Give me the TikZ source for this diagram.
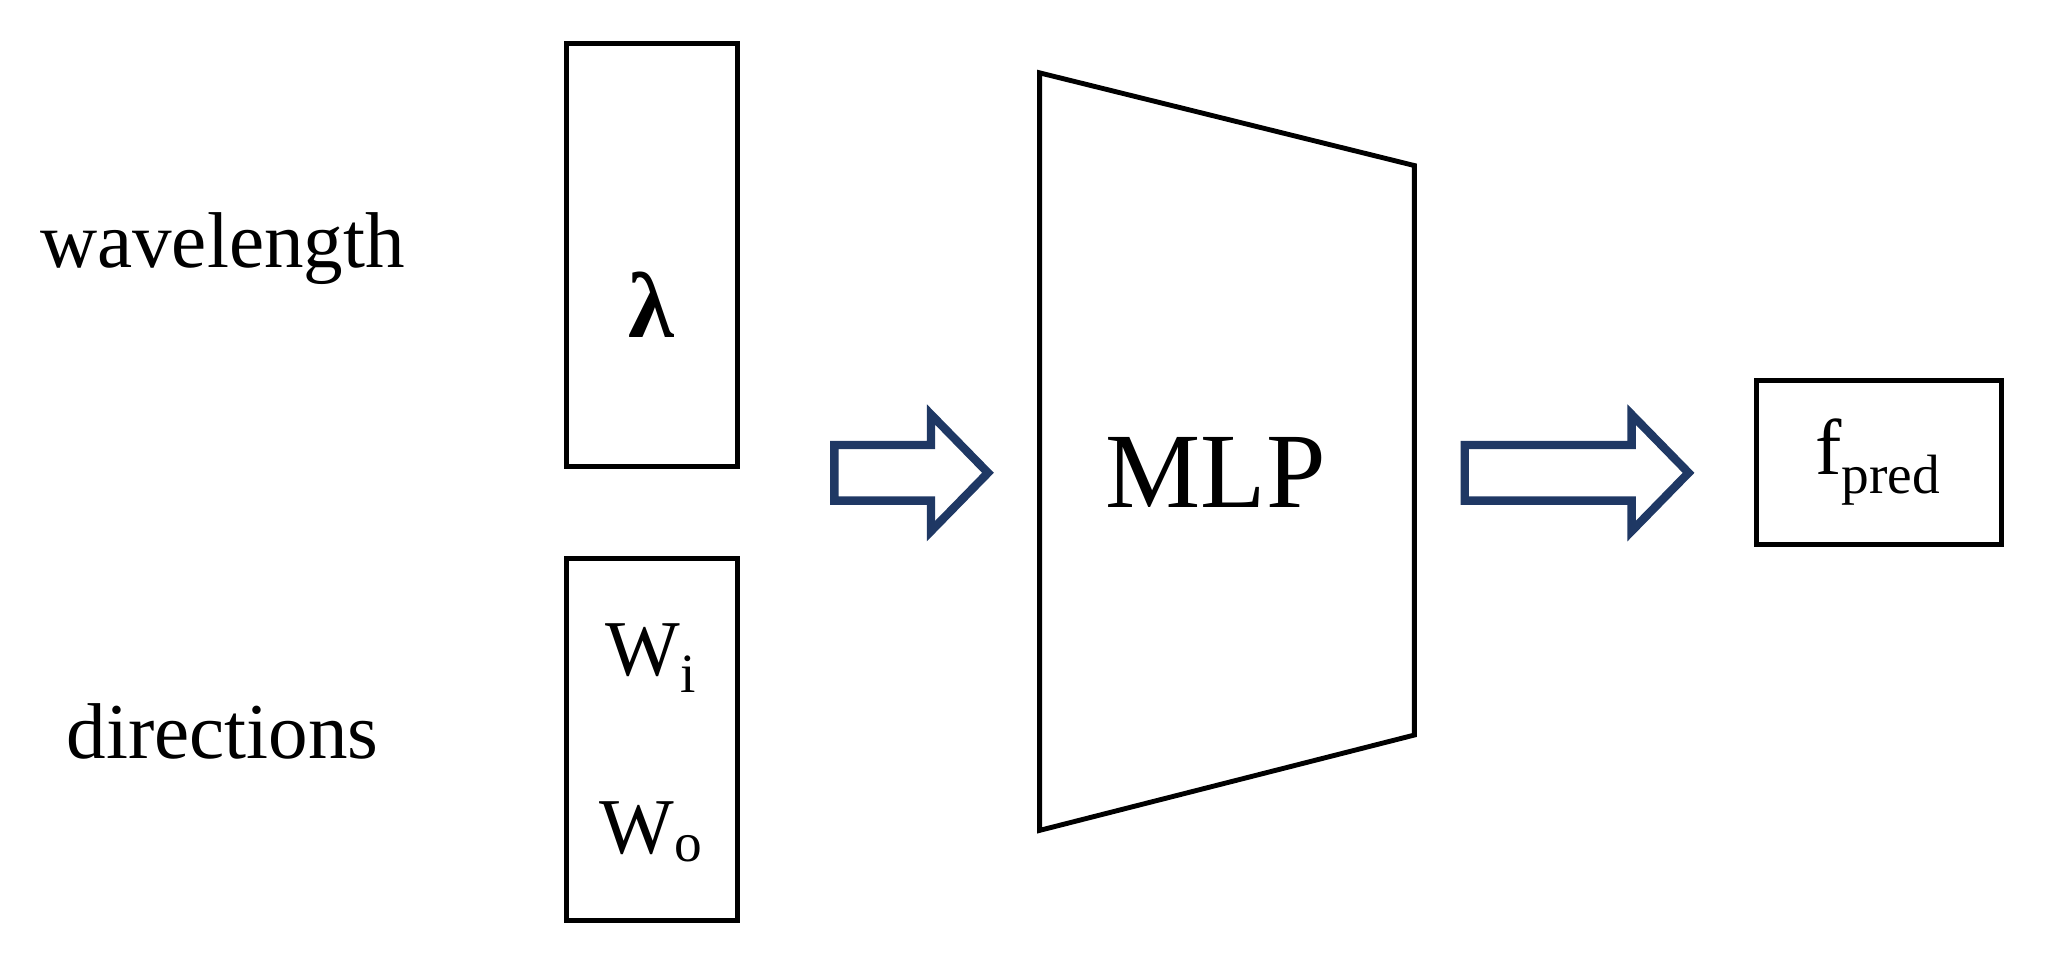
\documentclass[tikz,border=0pt]{standalone}
\usepackage{fontspec}
\setmainfont{Liberation Serif}
\begin{document}
\begin{tikzpicture}[x=0.02cm,y=-0.02cm,
  box/.style={draw,line width=2.1pt},
  barrow/.style={draw=arrowblue,fill=white,line width=3.6pt,line join=miter},
  lbl/.style={font=\fontsize{34}{40}\selectfont}]
\definecolor{arrowblue}{HTML}{1F3864}
\useasboundingbox (0,0) rectangle (1560,728);
\node[lbl] (wl) at (168,188) {wavelength};
\node[lbl] (dir) at (168,552) {directions};
\draw[box] (428,33) rectangle (557,352);
\node[font=\fontsize{40}{44}\selectfont\bfseries] (lam) at (492,230) {λ};
\draw[box] (428,422) rectangle (557,695);
\node[lbl] (wi) at (492,497) {W\textsubscript{i}};
\node[lbl] (wo) at (492,628) {W\textsubscript{o}};
\draw[box,line join=miter] (785,55) -- (1068,125) -- (1068,555) -- (785,627) -- cycle;
\node[font=\fontsize{46}{52}\selectfont] (mlp) at (918,357) {MLP};
\draw[box] (1326,287) rectangle (1511,411);
\node[lbl] (f) at (1418,349) {f\textsubscript{pred}};
\draw[barrow] (630,336) -- (703,336) -- (703,313) -- (746,357) -- (703,401) -- (703,378) -- (630,378) -- cycle;
\draw[barrow] (1106,336) -- (1232,336) -- (1232,313) -- (1275,357) -- (1232,401) -- (1232,378) -- (1106,378) -- cycle;
\end{tikzpicture}
\end{document}
